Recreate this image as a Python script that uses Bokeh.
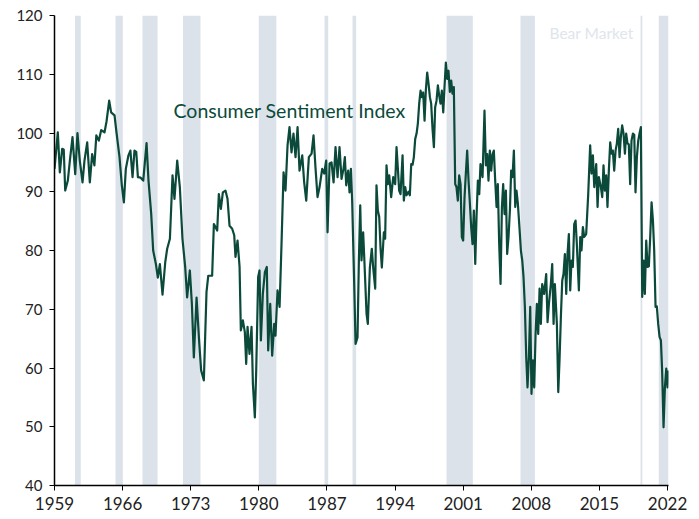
from bokeh.plotting import figure
from bokeh.models import FixedTicker, Range1d, Label
from bokeh.embed import file_html
from bokeh.resources import INLINE

# ---- data ----
years = [
    1959.0, 1959.34, 1959.55, 1959.79, 1959.95, 1960.1, 1960.37, 1960.58, 1960.85, 1961.13,
    1961.36, 1961.6, 1961.88, 1962.08, 1962.36, 1962.63, 1962.87, 1963.1, 1963.3, 1963.56,
    1963.8, 1964.14, 1964.35, 1964.62, 1964.82, 1965.17, 1965.37, 1965.68, 1965.92, 1966.13,
    1966.33, 1966.6, 1966.8, 1967.02, 1967.22, 1967.4, 1967.57, 1967.85, 1968.12, 1968.46,
    1968.66, 1968.94, 1969.14, 1969.42, 1969.62, 1969.83, 1970.1, 1970.38, 1970.58, 1970.86,
    1971.13, 1971.33, 1971.61, 1971.88, 1972.15, 1972.43, 1972.63, 1972.91, 1973.12, 1973.32,
    1973.6, 1973.87, 1974.07, 1974.35, 1974.62, 1974.8, 1975.2, 1975.38, 1975.72, 1975.89,
    1976.1, 1976.3, 1976.57, 1976.78, 1976.99, 1977.26, 1977.47, 1977.6, 1977.81, 1978.02,
    1978.15, 1978.36, 1978.56, 1978.7, 1978.84, 1979.04, 1979.25, 1979.39, 1979.59, 1979.73,
    1979.93, 1980.07, 1980.21, 1980.41, 1980.62, 1980.82, 1980.96, 1981.17, 1981.37, 1981.58,
    1981.71, 1981.92, 1982.13, 1982.33, 1982.54, 1982.74, 1982.95, 1983.15, 1983.36, 1983.56,
    1983.77, 1983.98, 1984.18, 1984.46, 1984.66, 1984.87, 1985.14, 1985.42, 1985.62, 1985.83,
    1986.03, 1986.24, 1986.51, 1986.72, 1986.92, 1987.06, 1987.27, 1987.47, 1987.68, 1987.88,
    1988.09, 1988.29, 1988.5, 1988.7, 1988.84, 1988.98, 1989.18, 1989.32, 1989.46, 1989.59,
    1989.8, 1989.94, 1990.14, 1990.28, 1990.42, 1990.55, 1990.72, 1990.86, 1991.07, 1991.2,
    1991.41, 1991.61, 1991.75, 1991.96, 1992.09, 1992.23, 1992.37, 1992.51, 1992.64, 1992.85,
    1992.98, 1993.12, 1993.26, 1993.4, 1993.6, 1993.81, 1994.01, 1994.15, 1994.29, 1994.42,
    1994.56, 1994.77, 1994.9, 1995.04, 1995.18, 1995.38, 1995.52, 1995.66, 1995.8, 1995.93,
    1996.07, 1996.21, 1996.34, 1996.48, 1996.62, 1996.75, 1996.89, 1997.03, 1997.16, 1997.3,
    1997.44, 1997.58, 1997.71, 1997.85, 1997.99, 1998.12, 1998.26, 1998.4, 1998.53, 1998.67,
    1998.81, 1998.95, 1999.08, 1999.22, 1999.36, 1999.49, 1999.63, 1999.77, 1999.9, 2000.04,
    2000.18, 2000.31, 2000.45, 2000.59, 2000.73, 2000.86, 2001.0, 2001.14, 2001.27, 2001.41,
    2001.55, 2001.69, 2001.82, 2001.96, 2002.1, 2002.24, 2002.37, 2002.51, 2002.65, 2002.78,
    2002.99, 2003.19, 2003.33, 2003.47, 2003.6, 2003.74, 2003.88, 2004.02, 2004.15, 2004.29,
    2004.43, 2004.56, 2004.7, 2004.84, 2004.98, 2005.11, 2005.25, 2005.39, 2005.52, 2005.66,
    2005.8, 2005.93, 2006.07, 2006.21, 2006.35, 2006.48, 2006.62, 2006.79, 2006.93, 2007.07,
    2007.2, 2007.34, 2007.48, 2007.61, 2007.75, 2007.89, 2008.02, 2008.16, 2008.3, 2008.44,
    2008.57, 2008.71, 2008.85, 2008.98, 2009.12, 2009.32, 2009.53, 2009.67, 2009.81, 2010.01,
    2010.15, 2010.29, 2010.42, 2010.63, 2010.77, 2010.9, 2011.04, 2011.18, 2011.31, 2011.45,
    2011.59, 2011.72, 2011.86, 2012.0, 2012.13, 2012.27, 2012.41, 2012.55, 2012.68, 2012.89,
    2013.03, 2013.16, 2013.3, 2013.44, 2013.64, 2013.85, 2014.05, 2014.19, 2014.33, 2014.47,
    2014.67, 2014.81, 2014.94, 2015.15, 2015.29, 2015.42, 2015.56, 2015.7, 2015.83, 2015.97,
    2016.11, 2016.25, 2016.38, 2016.52, 2016.66, 2016.79, 2016.93, 2017.07, 2017.2, 2017.34,
    2017.48, 2017.62, 2017.75, 2017.89, 2018.02, 2018.16, 2018.3, 2018.44, 2018.58, 2018.71,
    2018.85, 2018.99, 2019.12, 2019.26, 2019.4, 2019.54, 2019.67, 2019.81, 2019.95, 2020.08,
    2020.22, 2020.36, 2020.5, 2020.63, 2020.77, 2020.9, 2021.04, 2021.18, 2021.32, 2021.45,
    2021.59, 2021.73, 2021.87, 2022.0, 2022.1,
]
values = [
    93.9, 100.1, 93.3, 97.3, 97.2, 90.2, 91.9, 95.3, 99.3, 93.0,
    100.0, 95.3, 91.6, 95.3, 98.4, 91.6, 96.4, 94.5, 99.6, 98.7,
    100.5, 100.1, 102.0, 105.5, 103.5, 103.0, 100.1, 95.9, 91.1, 88.2,
    93.9, 96.2, 97.0, 92.5, 97.0, 96.8, 92.5, 92.4, 91.9, 98.3,
    91.9, 86.2, 80.0, 77.7, 75.4, 77.7, 72.5, 78.0, 80.3, 82.0,
    92.8, 88.8, 95.3, 90.8, 82.0, 77.2, 72.0, 76.6, 70.9, 61.8,
    72.0, 64.4, 59.6, 57.9, 72.9, 75.7, 75.7, 84.5, 83.4, 89.6,
    87.1, 89.9, 90.2, 88.8, 84.2, 83.7, 82.6, 78.9, 81.7, 77.2,
    66.4, 68.1, 66.1, 60.7, 67.0, 62.4, 67.0, 57.3, 51.6, 59.6,
    75.5, 76.6, 64.7, 72.6, 76.3, 77.2, 63.0, 70.9, 62.1, 67.5,
    65.5, 73.2, 70.4, 81.1, 93.3, 90.2, 97.9, 101.0, 96.7, 99.9,
    95.9, 101.0, 93.6, 96.2, 91.6, 88.5, 95.9, 96.5, 99.6, 93.9,
    89.1, 90.8, 93.9, 93.1, 95.3, 83.1, 94.8, 95.0, 91.6, 97.6,
    92.5, 97.6, 92.2, 93.9, 95.9, 91.1, 93.6, 89.9, 93.9, 88.5,
    74.3, 64.1, 65.2, 78.3, 87.7, 78.3, 83.1, 77.7, 69.2, 67.5,
    77.1, 80.3, 77.1, 73.5, 91.1, 86.8, 85.7, 80.3, 77.1, 83.1,
    82.0, 94.5, 91.3, 92.8, 89.1, 92.5, 91.3, 97.6, 93.9, 90.2,
    89.6, 96.2, 88.5, 90.8, 89.4, 90.0, 89.4, 94.7, 94.6, 95.9,
    99.0, 99.9, 101.6, 105.0, 107.2, 106.1, 106.9, 102.1, 107.2, 110.3,
    108.4, 106.1, 105.0, 100.7, 97.6, 104.4, 105.5, 108.1, 106.4, 105.0,
    107.2, 103.5, 107.8, 112.0, 109.2, 110.6, 107.0, 108.9, 106.7, 107.8,
    91.3, 90.8, 88.5, 92.8, 91.3, 82.3, 81.7, 89.1, 93.0, 97.0,
    91.9, 88.0, 84.0, 81.1, 86.8, 77.7, 85.7, 91.9, 89.6, 94.7,
    92.5, 103.8, 94.5, 96.4, 91.9, 97.0, 93.6, 96.4, 97.0, 91.9,
    87.4, 91.3, 81.1, 74.3, 87.4, 91.3, 86.2, 90.2, 79.4, 82.3,
    86.8, 93.6, 92.5, 97.0, 87.4, 90.2, 88.0, 83.7, 80.0, 78.3,
    75.5, 70.4, 61.8, 56.7, 61.8, 70.4, 55.6, 61.3, 56.7, 65.8,
    70.9, 65.8, 73.5, 67.5, 74.3, 72.6, 76.0, 67.8, 70.9, 74.3,
    77.7, 67.5, 74.3, 67.5, 55.9, 61.3, 68.7, 74.9, 76.0, 79.4,
    72.6, 79.4, 82.8, 73.2, 78.3, 77.2, 84.5, 85.1, 81.1, 73.2,
    82.3, 80.0, 84.0, 82.3, 82.8, 89.6, 97.9, 93.1, 96.2, 90.8,
    94.7, 87.4, 92.5, 90.8, 89.1, 94.5, 90.2, 92.8, 87.4, 93.6,
    98.4, 96.5, 97.0, 93.6, 97.0, 98.2, 100.7, 95.9, 99.3, 101.3,
    99.9, 96.5, 99.9, 98.2, 98.1, 91.3, 98.7, 99.9, 99.7, 89.9,
    95.9, 98.7, 99.9, 101.0, 72.1, 78.3, 72.6, 81.7, 77.2, 77.3,
    82.3, 88.2, 85.1, 80.0, 70.4, 70.5, 67.5, 65.3, 64.7, 59.3,
    49.9, 56.7, 59.9, 56.7, 59.6,
]

bear_start = [1961.1, 1965.27, 1968.04, 1972.2, 1979.99, 1986.75, 1989.63, 1999.29, 2006.89, 2019.23, 2021.1]
bear_end = [1961.7, 1966.02, 1969.59, 1974.0, 1981.8, 1987.13, 1990.0, 2001.99, 2008.37, 2019.41, 2022.1]

x_ticks = [1959, 1966, 1973, 1980, 1987, 1994, 2001, 2008, 2015, 2022]
y_ticks = [40, 50, 60, 70, 80, 90, 100, 110, 120]

series_label = "Consumer Sentiment Index"
band_label = "Bear Market"

GREEN = "#0b4a3a"
BAND = "#dce2ea"

p = figure(
    frame_width=614, frame_height=470,
    x_range=Range1d(x_ticks[0], 2022.1),
    y_range=Range1d(y_ticks[0], y_ticks[-1]),
    output_backend="svg", toolbar_location=None,
    min_border_left=54, min_border_top=15, min_border_right=24, min_border_bottom=32,
    background_fill_color="white", border_fill_color="white",
)
p.outline_line_color = None
p.grid.visible = False

p.quad(left=bear_start, right=bear_end, bottom=y_ticks[0], top=y_ticks[-1],
       fill_color=BAND, line_color=None)
p.line(years, values, line_color=GREEN, line_width=2.2, line_join="round")

p.add_layout(Label(x=1971.23, y=103.8, text=series_label, text_font="Lato",
                   text_font_size="19.5px", text_color=GREEN, text_baseline="middle"))
p.add_layout(Label(x=2009.87, y=117.0, text=band_label, text_font="Lato",
                   text_font_size="15.5px", text_color="#e0e5ec", text_baseline="middle"))

p.xaxis.ticker = FixedTicker(ticks=x_ticks)
p.yaxis.ticker = FixedTicker(ticks=y_ticks)
for ax in (p.xaxis[0], p.yaxis[0]):
    ax.axis_line_color = "black"
    ax.axis_line_width = 1.5
    ax.major_tick_line_color = "black"
    ax.major_tick_out = 5
    ax.major_tick_in = 0
    ax.minor_tick_line_color = None
    ax.major_label_text_font = "Lato"
    ax.major_label_text_color = "#222222"
p.xaxis.major_label_text_font_size = "17px"
p.yaxis.major_label_text_font_size = "15px"
p.xaxis.major_label_standoff = 6
p.yaxis.major_label_standoff = 7

open("out.html", "w").write(file_html(p, INLINE))
